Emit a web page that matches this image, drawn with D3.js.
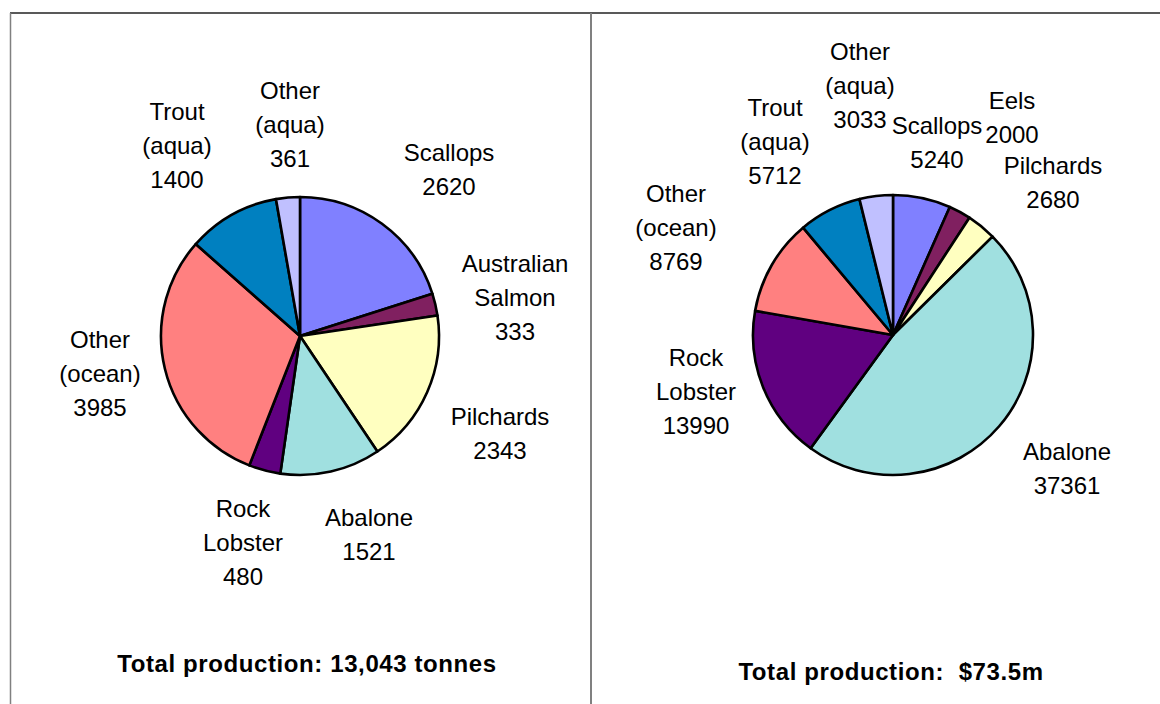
<!DOCTYPE html>
<html><head><meta charset="utf-8">
<script src="https://cdn.jsdelivr.net/npm/d3@7"></script>
<style>
html,body{margin:0;padding:0;background:#fff;}
svg{display:block;font-family:"Liberation Sans",Arial,sans-serif;}
</style></head>
<body>
<svg id="chart" width="1160" height="704"></svg>
<script>
// ---- data ----
const leftCategories = [["Scallops"],["Australian","Salmon"],["Pilchards"],["Abalone"],["Rock","Lobster"],["Other","(ocean)"],["Trout","(aqua)"],["Other","(aqua)"]];
const leftValues = [2620, 333, 2343, 1521, 480, 3985, 1400, 361];
const leftTitle = "Total production: 13,043 tonnes";

const rightCategories = [["Scallops"],["Eels"],["Pilchards"],["Abalone"],["Rock","Lobster"],["Other","(ocean)"],["Trout","(aqua)"],["Other","(aqua)"]];
const rightValues = [5240, 2000, 2680, 37361, 13990, 8769, 5712, 3033];
const rightTitle = "Total production:  $73.5m";

const sliceColors = ["#8080FF","#802060","#FFFFC0","#A0E0E0","#600080","#FF8080","#0080C0","#C0C0FF"];

// ---- layout (label centres relative to pie centre) ----
const leftLabelPos = [[149,-166],[215,-38],[200,98],[69,199],[-57,207],[-200,38],[-123,-190],[-10,-211]];
const rightLabelPos = [[44,-192],[119,-217],[160,-152],[174,134],[-197,57],[-217,-107],[-118,-193],[-33,-249]];

const svg = d3.select("#chart");
const lineH = 34;

// frame
svg.append("line").attr("x1",10).attr("x2",1160).attr("y1",13).attr("y2",13).attr("stroke","#222").attr("stroke-width",1.5);
svg.append("line").attr("x1",10.5).attr("x2",10.5).attr("y1",13).attr("y2",704).attr("stroke","#808080").attr("stroke-width",1.5);
svg.append("line").attr("x1",591).attr("x2",591).attr("y1",13).attr("y2",704).attr("stroke","#808080").attr("stroke-width",2);

function drawPie(cx, cy, r, cats, vals, labelPos, title, titleX, titleY){
  const g = svg.append("g").attr("transform",`translate(${cx},${cy})`);
  const data = vals.map((v,i)=>({name:cats[i], value:v, color:sliceColors[i], pos:labelPos[i]}));
  const pie = d3.pie().sort(null).value(d=>d.value).startAngle(0).endAngle(2*Math.PI);
  const arc = d3.arc().innerRadius(0).outerRadius(r);
  g.selectAll("path.slice").data(pie(data)).join("path")
    .attr("class","slice")
    .attr("d",arc)
    .attr("fill",d=>d.data.color)
    .attr("stroke","#000").attr("stroke-width",2.6).attr("stroke-linejoin","round");
  const lab = g.selectAll("text.lab").data(data).join("text")
    .attr("class","lab")
    .attr("text-anchor","middle")
    .attr("font-size",24)
    .attr("fill","#000");
  lab.each(function(d){
    const lines = d.name.concat([String(d.value)]);
    const t = d3.select(this);
    const y0 = d.pos[1] - (lines.length-1)*lineH/2;
    lines.forEach((s,k)=>{
      t.append("tspan").attr("x",d.pos[0]).attr("y",y0+k*lineH).attr("dy","0.35em").text(s);
    });
  });
  svg.append("text").attr("x",titleX).attr("y",titleY).attr("dy","0.35em")
    .attr("text-anchor","middle").attr("font-weight","bold").attr("font-size",24)
    .attr("letter-spacing","0.6px")
    .style("white-space","pre")
    .text(title);
}

drawPie(300, 336, 139, leftCategories, leftValues, leftLabelPos, leftTitle, 307, 664);
drawPie(893, 335, 140, rightCategories, rightValues, rightLabelPos, rightTitle, 891, 672);
</script>
</body></html>
